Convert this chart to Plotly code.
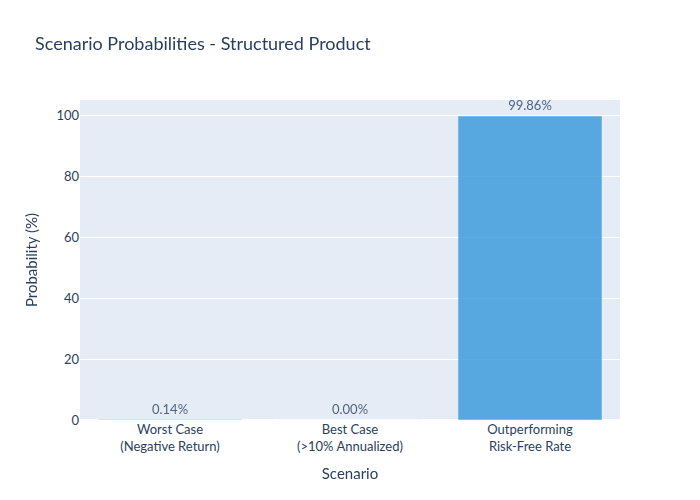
import plotly.graph_objects as go

categories = ["Worst Case<br>(Negative Return)", "Best Case<br>(>10% Annualized)", "Outperforming<br>Risk-Free Rate"]
probabilities = [0.14, 0.00, 99.86]
labels = ["0.14%", "0.00%", "99.86%"]
colors = ["#e74c3c", "#2ecc71", "#3498db"]

fig = go.Figure(go.Bar(
    x=categories,
    y=probabilities,
    text=labels,
    textposition="outside",
    marker_color=colors,
    opacity=0.8,
))
fig.update_layout(
    template="plotly",
    width=700, height=500,
    margin=dict(l=72, r=88, t=92, b=88),
    font=dict(family="Lato", size=13),
    title=dict(text="Scenario Probabilities - Structured Product", font=dict(size=18),
               x=27/700, xanchor="left", xref="container",
               y=1 - 36/500, yanchor="middle", yref="container"),
    xaxis_title="Scenario",
    yaxis_title="Probability (%)",
    showlegend=False,
)
fig.update_xaxes(title_font_size=15)
fig.update_yaxes(title_font_size=15)
fig.write_html("out.html")
